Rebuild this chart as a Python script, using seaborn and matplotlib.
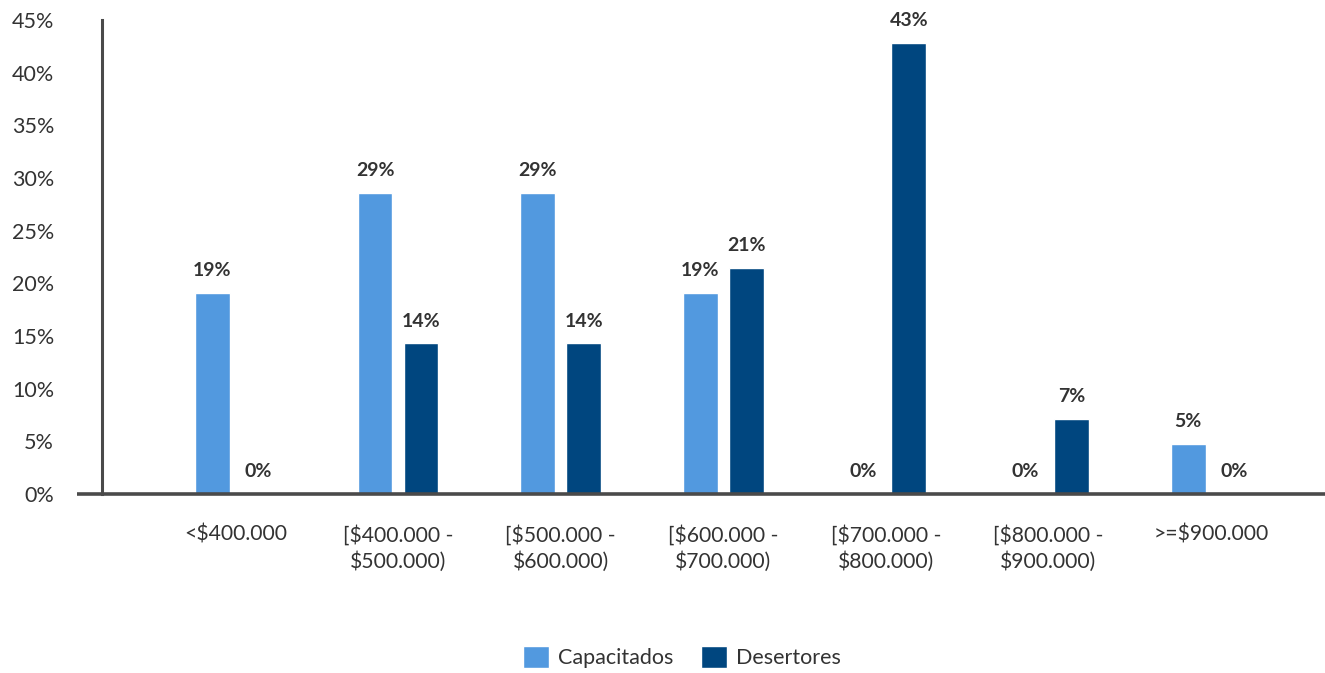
import matplotlib
matplotlib.use("Agg")
import matplotlib.pyplot as plt
import seaborn as sns
import pandas as pd

# Salary brackets (x categories)
categories = [
    "<$400.000",
    "[$400.000 -\n$500.000)",
    "[$500.000 -\n$600.000)",
    "[$600.000 -\n$700.000)",
    "[$700.000 -\n$800.000)",
    "[$800.000 -\n$900.000)",
    ">=$900.000",
]
series_names = ["Capacitados", "Desertores"]
# Share of each group per bracket (%)
capacitados = [19.05, 28.57, 28.57, 19.05, 0.0, 0.0, 4.76]
desertores = [0.0, 14.29, 14.29, 21.43, 42.86, 7.14, 0.0]
y_ticks = [0, 5, 10, 15, 20, 25, 30, 35, 40, 45]

colors = {"Capacitados": "#5299df", "Desertores": "#00467f"}
axis_color = "#4a4a4a"
text_color = "#333333"

df = pd.DataFrame({
    "Rango": categories * 2,
    "Grupo": [series_names[0]] * len(categories) + [series_names[1]] * len(categories),
    "Valor": capacitados + desertores,
})

sns.set_theme(style="white")
plt.rcParams["font.family"] = ["Lato", "DejaVu Sans"]

fig = plt.figure(figsize=(13.25, 6.73), dpi=100)
ax = fig.add_axes([102 / 1325, 1 - 494 / 673, 1223 / 1325, 474 / 673])

sns.barplot(data=df, x="Rango", y="Valor", hue="Grupo", order=categories,
            hue_order=series_names, palette=colors, width=0.565, gap=0.24,
            saturation=1, ax=ax, legend=True)

ax.set_xlim(-0.82, 6.70)
ax.set_ylim(0, 45)
ax.set_yticks(y_ticks)
ax.set_yticklabels([f"{t}%" for t in y_ticks])
ax.set_xlabel("")
ax.set_ylabel("")

for side in ["top", "right", "bottom"]:
    ax.spines[side].set_visible(False)
ax.spines["left"].set_color(axis_color)
ax.spines["left"].set_linewidth(2.2)

# Baseline running from the tick marks to the right edge
ax.plot([-25 / 1223, 1.0], [0, 0], transform=ax.transAxes, color=axis_color,
        lw=2.6, clip_on=False, solid_capstyle="butt", zorder=5)

ax.tick_params(axis="y", direction="out", length=19.5, width=2.2,
               color=axis_color, pad=15, labelsize=15.5, labelcolor=text_color)
ax.tick_params(axis="x", length=0, pad=22, labelsize=15.2, labelcolor=text_color)
for lbl in ax.get_xticklabels():
    lbl.set_linespacing(1.35)
ax.grid(False)

# Value labels above each bar
for container, vals in zip(ax.containers, [capacitados, desertores]):
    ax.bar_label(container, labels=[f"{v:.0f}%" for v in vals], padding=10,
                 fontsize=14, fontweight="bold", color=text_color)

sns.move_legend(ax, "center", bbox_to_anchor=(682 / 1325, 16 / 673),
                bbox_transform=fig.transFigure, ncol=2, frameon=False,
                title=None, fontsize=15.5, handlelength=1.2, handleheight=1.2,
                handletextpad=0.4, columnspacing=1.3)
for t in ax.get_legend().get_texts():
    t.set_color(text_color)

fig.savefig("out.png", dpi=100)
